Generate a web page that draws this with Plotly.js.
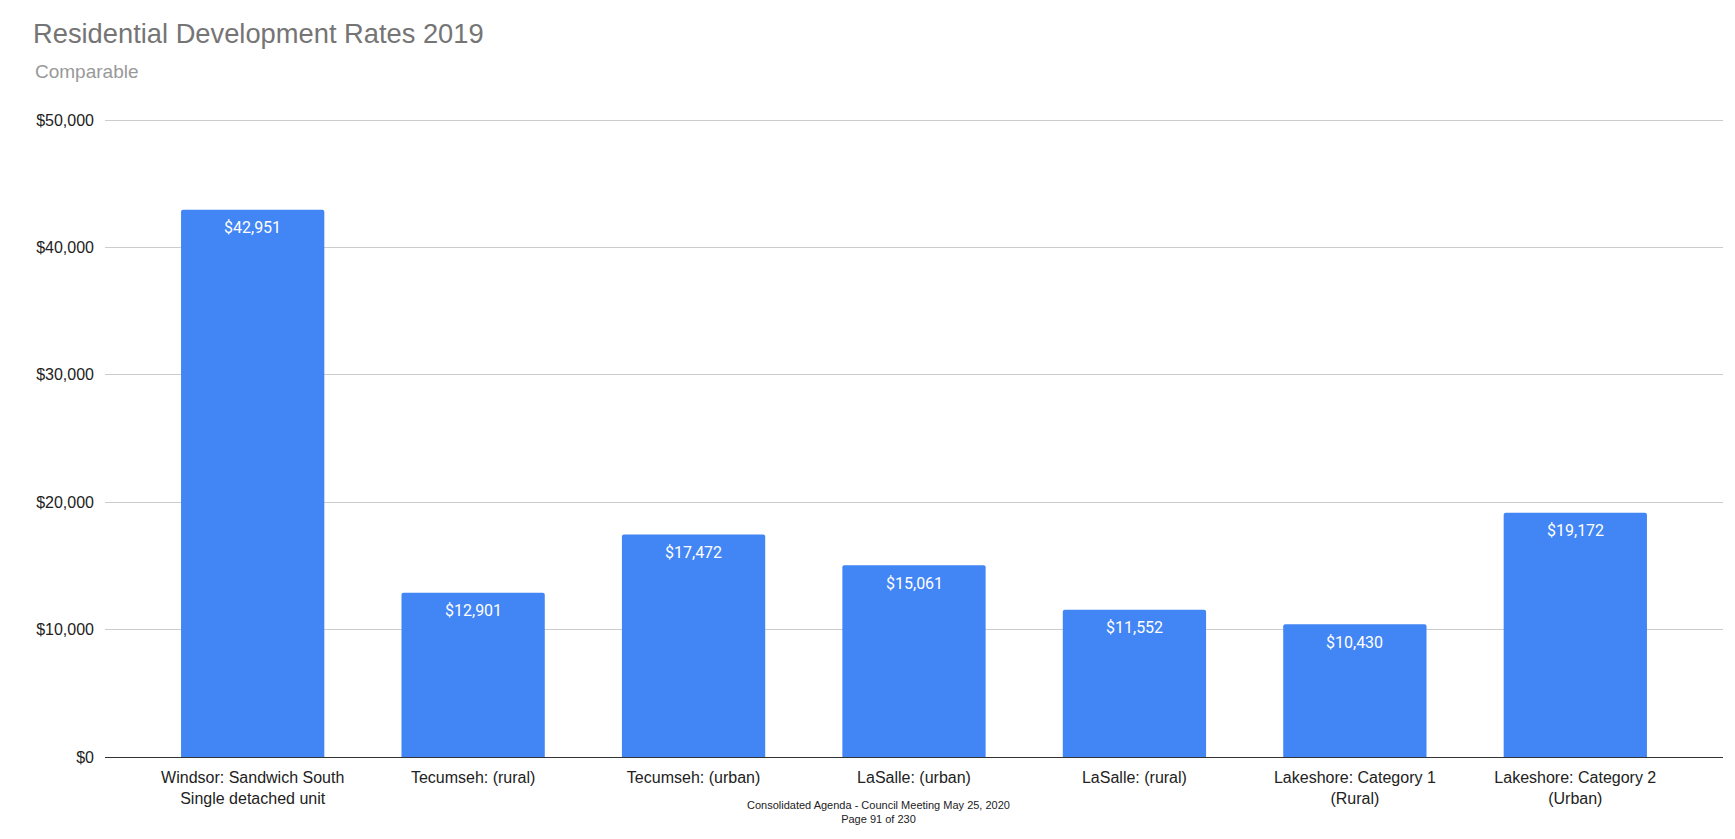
<!DOCTYPE html>
<html>
<head>
<meta charset="utf-8">
<script src="https://cdn.plot.ly/plotly-3.0.1.min.js"></script>
<style>
html,body{margin:0;padding:0;background:#fff;}
#chart{width:1735px;height:839px;}
</style>
</head>
<body>
<div id="chart"></div>
<script>
const categories = [
  "Windsor: Sandwich South<br>Single detached unit",
  "Tecumseh: (rural)",
  "Tecumseh: (urban)",
  "LaSalle: (urban)",
  "LaSalle: (rural)",
  "Lakeshore: Category 1<br>(Rural)",
  "Lakeshore: Category 2<br>(Urban)"
];
const values = [42951, 12901, 17472, 15061, 11552, 10430, 19172];
const yTickValues = [0, 10000, 20000, 30000, 40000, 50000];
const titleText = "Residential Development Rates 2019";
const subtitleText = "Comparable";
const footerText = "Consolidated Agenda - Council Meeting May 25, 2020<br>Page 91 of 230";

const W = 1735, H = 839;
const mL = 105, mR = 12, mT = 119, mB = 82;
const pw = W - mL - mR;

const labelAnnotations = values.map((v, i) => ({
  x: i, y: v, xref: 'x', yref: 'y',
  text: '$' + v.toLocaleString('en-US'),
  showarrow: false, yanchor: 'middle', yshift: -18,
  font: {family: 'Roboto, Arial, sans-serif', size: 16, color: '#ffffff'}
}));

const data = [{
  type: 'bar',
  x: categories.map((c, i) => i),
  y: values,
  marker: {color: '#4285F4', cornerradius: 2},
  hoverinfo: 'none'
}];

const layout = {
  width: W, height: H,
  margin: {l: mL, r: mR, t: mT, b: mB},
  paper_bgcolor: '#ffffff', plot_bgcolor: '#ffffff',
  showlegend: false,
  bargap: 0.35,
  title: {
    text: titleText,
    xref: 'container', yref: 'container',
    x: 33 / W, xanchor: 'left',
    y: 1 - 33 / H, yanchor: 'middle',
    font: {family: 'Arial, "Liberation Sans", sans-serif', size: 27.3, color: '#757575'}
  },
  xaxis: {
    range: [-0.67, categories.length - 1 + 0.67],
    tickmode: 'array',
    tickvals: categories.map((c, i) => i),
    ticktext: categories,
    showgrid: false, zeroline: false,
    showline: true, linecolor: '#333333', linewidth: 1,
    ticks: '', ticklabelstandoff: 6,
    tickfont: {family: 'Arial, "Liberation Sans", sans-serif', size: 16, color: '#222222'},
    fixedrange: true
  },
  yaxis: {
    range: [0, 50080],
    tickmode: 'array',
    tickvals: yTickValues,
    ticktext: yTickValues.map(v => '$' + v.toLocaleString('en-US')),
    showgrid: true, gridcolor: '#cccccc', gridwidth: 1,
    zeroline: false, showline: false,
    ticks: '', ticklabelstandoff: 10,
    tickfont: {family: 'Arial, "Liberation Sans", sans-serif', size: 16, color: '#222222'},
    fixedrange: true
  },
  annotations: labelAnnotations.concat([
    {
      xref: 'paper', yref: 'paper',
      x: (33 - mL) / pw, xanchor: 'left',
      y: 1 + (mT - 71) / (H - mT - mB), yanchor: 'middle',
      text: subtitleText, showarrow: false,
      font: {family: 'Arial, "Liberation Sans", sans-serif', size: 19, color: '#999999'}
    },
    {
      xref: 'paper', yref: 'paper',
      x: (878 - mL) / pw, xanchor: 'center',
      y: -(812 - (H - mB)) / (H - mT - mB), yanchor: 'middle',
      text: footerText, showarrow: false, align: 'center',
      font: {family: 'Arial, "Liberation Sans", sans-serif', size: 11, color: '#222222'}
    }
  ])
};

Plotly.newPlot('chart', data, layout, {displayModeBar: false, staticPlot: true});
</script>
</body>
</html>
